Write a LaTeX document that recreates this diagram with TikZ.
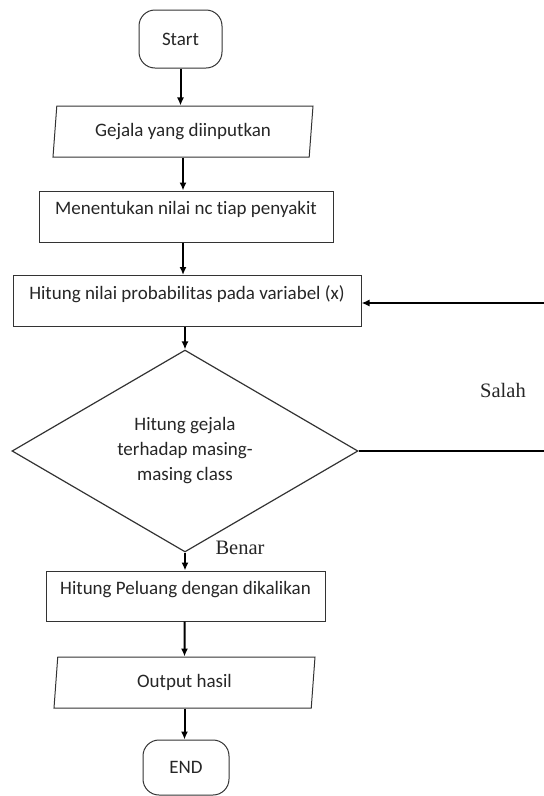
\documentclass[tikz,border=0pt]{standalone}
\usepackage{fontspec}
\setmainfont{Carlito}[Ligatures={NoCommon}]
\newfontfamily\labelfont{Liberation Serif}
\usetikzlibrary{shapes.geometric,arrows.meta}

\begin{document}
\begin{tikzpicture}[x=1pt,y=-1pt,
  every node/.style={font=\fontsize{19}{25}\selectfont, text=black!85},
  terminal/.style={draw=black!80, line width=1pt, rounded corners=16pt,
    minimum width=#1, inner sep=0pt},
  procbox/.style={draw=black!80, line width=1pt, rectangle, inner sep=0pt,
    minimum height=51pt, text height=9pt, text depth=13pt},
  iobox/.style={draw=black!80, line width=1pt, trapezium,
    trapezium left angle=77, trapezium right angle=103,
    trapezium stretches body, minimum height=51pt, inner sep=0pt},
  decision/.style={draw=black!80, line width=1.2pt, diamond, inner sep=0pt,
    minimum width=346pt, minimum height=175pt, align=center},
  arr/.style={draw=black, line width=2pt, -{Latex[length=8pt,width=7pt]}},
  flow/.style={draw=black, line width=2pt},
  branch/.style={font=\labelfont\fontsize{20.5}{24}\selectfont, text=black!85}
]
\useasboundingbox (0,0) rectangle (544,796);

% flowchart steps
\node[terminal=83pt, minimum height=58pt] (start) at (180.5,39) {Start};
\node[iobox, minimum width=260pt] (input) at (183,131.5) {Gejala yang diinputkan};
\node[procbox, minimum width=294pt] (nc) at (186,216.5) {Menentukan nilai nc tiap penyakit};
\node[procbox, minimum width=348pt] (prob) at (187,301) {Hitung nilai probabilitas pada variabel (x)};
\node[decision] (check) at (185,451) {Hitung gejala\\terhadap masing-\\masing class};
\node[procbox, minimum width=279pt, minimum height=50pt] (peluang) at (185.5,596) {Hitung Peluang dengan dikalikan};
\node[iobox, minimum width=261pt] (output) at (184.5,682.5) {Output hasil};
\node[terminal=86pt, minimum height=55pt] (end) at (186,767.5) {END};

% branch labels
\node[branch] (salah) at (503,390) {Salah};
\node[branch] (benar) at (240,548) {Benar};

% loop-back corners beyond the right edge
\coordinate (loopA) at (550,451);
\coordinate (loopB) at (550,303);

% main flow
\draw[arr] (start.south) -- (start.south |- input.north);
\draw[arr] (input.south) -- (input.south |- nc.north);
\draw[arr] (nc.south -| input.south) -- (input.south |- prob.north);
\draw[arr] (check.north |- prob.south) -- (check.north);
\draw[arr] (check.south) -- (check.south |- peluang.north);
\draw[arr] (peluang.south -| output.center) -- (output.north);
\draw[arr] (output.south) -- (output.south |- end.north);

% false branch back to the probability step
\draw[flow] (check.east) -- (loopA) -- (loopB);
\draw[arr] (loopB) -- (loopB -| prob.east);
\end{tikzpicture}
\end{document}
